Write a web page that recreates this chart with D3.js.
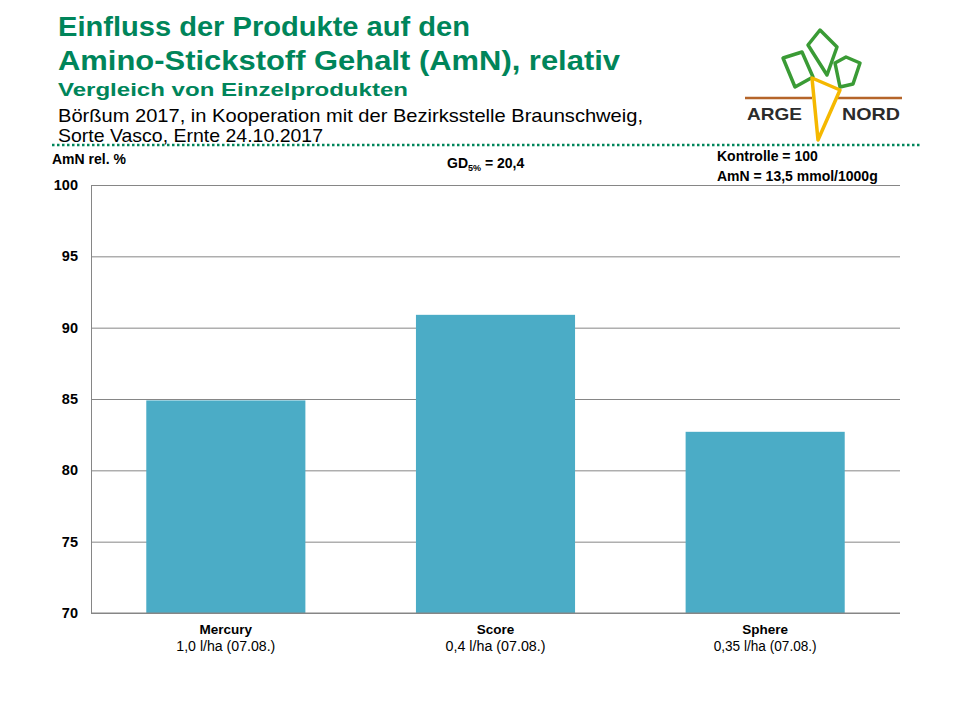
<!DOCTYPE html>
<html>
<head>
<meta charset="utf-8">
<script src="https://cdn.jsdelivr.net/npm/d3@7"></script>
<style>
  body { margin: 0; background: #fff; }
  text { font-family: "Liberation Sans", Arial, sans-serif; }
</style>
</head>
<body>
<div id="chart"></div>
<script>
const products = ['Mercury', 'Score', 'Sphere'];
const doses = ['1,0 l/ha (07.08.)', '0,4 l/ha (07.08.)', '0,35 l/ha (07.08.)'];
const values = [84.9, 90.9, 82.7];
const yTicks = [70, 75, 80, 85, 90, 95, 100];

const width = 960;
const height = 720;
const margin = { top: 185, right: 60, bottom: 107, left: 91 };

const green = '#00855a';
const barColor = '#4bacc6';

const svg = d3.select('#chart')
    .append('svg')
    .attr('width', width)
    .attr('height', height);

// header texts
function fitText(x, y, str, w, size, weight, fill) {
    return svg.append('text')
        .attr('x', x).attr('y', y)
        .attr('font-size', size)
        .attr('font-weight', weight)
        .attr('fill', fill)
        .attr('textLength', w)
        .attr('lengthAdjust', 'spacingAndGlyphs')
        .text(str);
}
fitText(58, 36, 'Einfluss der Produkte auf den', 412, 27, 'bold', green);
fitText(58, 70, 'Amino-Stickstoff Gehalt (AmN), relativ', 562, 27, 'bold', green);
fitText(58, 96, 'Vergleich von Einzelprodukten', 350, 19, 'bold', green);
fitText(58, 122, 'Börßum 2017, in Kooperation mit der Bezirksstelle Braunschweig,', 585, 18.5, 'normal', '#000');
fitText(58, 142, 'Sorte Vasco, Ernte 24.10.2017', 265, 18.5, 'normal', '#000');

// dotted separator
svg.append('line')
    .attr('x1', 52).attr('x2', 920)
    .attr('y1', 145).attr('y2', 145)
    .attr('stroke', green)
    .attr('stroke-width', 2.5)
    .attr('stroke-dasharray', '2.5,2.5');

// logo (simplified)
const logo = svg.append('g');
const leaves = [
    [[783, 58], [802, 52], [813, 77], [795, 87]],
    [[808, 45], [820, 30], [837, 47], [827, 75]],
    [[835, 63], [846, 57], [860, 63], [853, 84], [840, 87]]
];
leaves.forEach(p => {
    logo.append('path')
        .attr('d', d3.line()(p) + 'Z')
        .attr('fill', 'none')
        .attr('stroke', '#3a9b35')
        .attr('stroke-width', 3.5)
        .attr('stroke-linejoin', 'round');
});
logo.append('line').attr('x1', 745).attr('x2', 812).attr('y1', 98).attr('y2', 98)
    .attr('stroke', '#b5652a').attr('stroke-width', 2.5);
logo.append('line').attr('x1', 838).attr('x2', 902).attr('y1', 98).attr('y2', 98)
    .attr('stroke', '#b5652a').attr('stroke-width', 2.5);
logo.append('path')
    .attr('d', d3.line()([[812, 78], [840, 90], [818, 140]]) + 'Z')
    .attr('fill', 'none')
    .attr('stroke', '#f5b800')
    .attr('stroke-width', 3.5)
    .attr('stroke-linejoin', 'round');
fitText(747, 120, 'ARGE', 55, 17, 'bold', '#2b2b2b');
fitText(842, 120, 'NORD', 58, 17, 'bold', '#2b2b2b');

// scales
const x = d3.scaleBand()
    .domain(products)
    .range([margin.left, width - margin.right])
    .paddingInner(0.41)
    .paddingOuter(0.205);

const y = d3.scaleLinear()
    .domain([70, 100])
    .range([height - margin.bottom, margin.top]);

// gridlines
svg.append('g')
    .attr('transform', `translate(${margin.left},0)`)
    .call(d3.axisLeft(y).tickValues(yTicks).tickSize(-(width - margin.left - margin.right)).tickFormat(''))
    .call(g => g.select('.domain').remove())
    .call(g => g.selectAll('line').attr('stroke', '#868686').attr('stroke-width', 1));

// bars
svg.append('g')
    .selectAll('rect')
    .data(values)
    .join('rect')
    .attr('x', (d, i) => x(products[i]))
    .attr('y', d => y(d))
    .attr('width', x.bandwidth())
    .attr('height', d => y(70) - y(d))
    .attr('fill', barColor);

// y axis
svg.append('g')
    .attr('transform', `translate(${margin.left},0)`)
    .call(d3.axisLeft(y).tickValues(yTicks).tickSize(0).tickPadding(13))
    .call(g => g.select('.domain').attr('stroke', '#868686'))
    .call(g => g.selectAll('text')
        .attr('font-size', 14.5)
        .attr('font-weight', 'bold')
        .attr('fill', '#000')
        .attr('font-family', '"Liberation Sans", Arial, sans-serif'));

// x axis line
svg.append('line')
    .attr('x1', margin.left).attr('x2', width - margin.right)
    .attr('y1', y(70)).attr('y2', y(70))
    .attr('stroke', '#868686');

// x labels
const doseWidths = [99, 100, 103];
const xl = svg.append('g');
products.forEach((p, i) => {
    const cx = x(p) + x.bandwidth() / 2;
    xl.append('text')
        .attr('x', cx).attr('y', 634)
        .attr('text-anchor', 'middle')
        .attr('font-size', 13.5)
        .attr('font-weight', 'bold')
        .text(p);
    xl.append('text')
        .attr('x', cx - doseWidths[i] / 2).attr('y', 651)
        .attr('font-size', 14)
        .attr('textLength', doseWidths[i])
        .attr('lengthAdjust', 'spacingAndGlyphs')
        .text(doses[i]);
});

// annotations
svg.append('text').attr('x', 52).attr('y', 164)
    .attr('font-size', 14).attr('font-weight', 'bold').text('AmN rel. %');

const gd = svg.append('text').attr('x', 447).attr('y', 168)
    .attr('font-size', 14).attr('font-weight', 'bold');
gd.append('tspan').text('GD');
gd.append('tspan').attr('font-size', 9).attr('dy', 3).text('5%');
gd.append('tspan').attr('dy', -3).text(' = 20,4');

svg.append('text').attr('x', 717).attr('y', 161)
    .attr('font-size', 14).attr('font-weight', 'bold').text('Kontrolle = 100');
svg.append('text').attr('x', 717).attr('y', 181)
    .attr('font-size', 14).attr('font-weight', 'bold').text('AmN = 13,5 mmol/1000g');
</script>
</body>
</html>
